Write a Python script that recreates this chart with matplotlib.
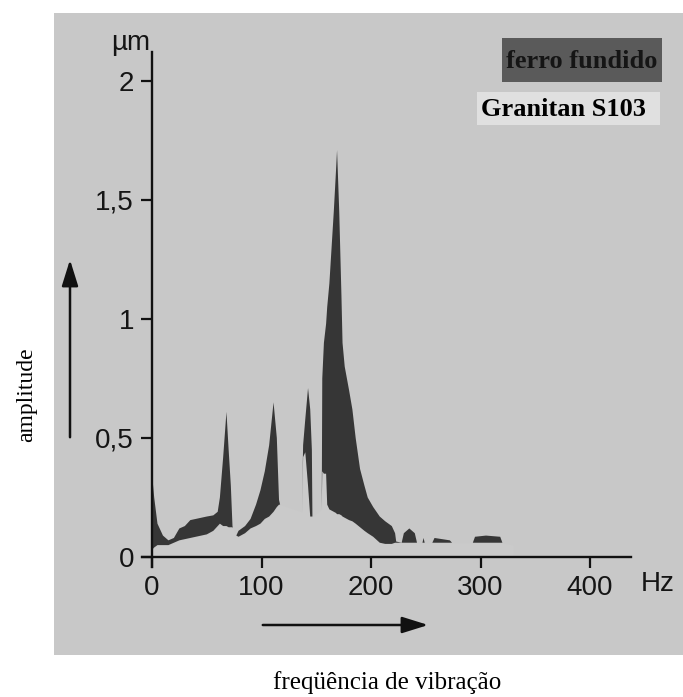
import matplotlib
matplotlib.use("Agg")
import matplotlib.pyplot as plt
from matplotlib import font_manager
from matplotlib.patches import Rectangle
from matplotlib.ticker import FuncFormatter

# frequency (Hz) and amplitude (um)
HZ = [0, 2, 5, 10, 15, 20, 25, 30, 35, 40, 50, 56, 60, 62, 65, 68, 70, 72, 73.5, 74,
      77, 79, 85, 90, 95, 99, 103, 107, 111, 114, 116, 117,
      137, 138, 140, 142.5, 144.5, 146, 146.5,
      155, 155.5, 157, 159, 160, 162, 164, 166, 168, 169, 171, 173, 174, 176, 180,
      183, 186, 190, 194, 197, 202, 208, 213, 219, 222, 223,
      228, 230, 235, 240, 242, 247, 248, 249, 256, 258, 265, 272, 274,
      293, 295, 305, 318, 320, 330]
FERRO = [0.35, 0.25, 0.14, 0.09, 0.07, 0.08, 0.12, 0.13, 0.155, 0.16, 0.17, 0.175, 0.19, 0.25, 0.42, 0.61, 0.45, 0.30, 0.13, 0.12,
         0.09, 0.11, 0.13, 0.16, 0.22, 0.28, 0.36, 0.47, 0.65, 0.50, 0.24, 0.22,
         0.19, 0.47, 0.58, 0.71, 0.62, 0.45, 0.17,
         0.20, 0.75, 0.90, 0.98, 1.05, 1.15, 1.30, 1.45, 1.62, 1.71, 1.45, 1.10, 0.90, 0.80, 0.70,
         0.62, 0.50, 0.37, 0.30, 0.25, 0.21, 0.17, 0.15, 0.13, 0.10, 0.065,
         0.06, 0.10, 0.12, 0.10, 0.06, 0.06, 0.08, 0.06, 0.06, 0.08, 0.075, 0.07, 0.06,
         0.06, 0.085, 0.09, 0.085, 0.06, 0.05]
GRANITAN = [0.03, 0.04, 0.05, 0.05, 0.05, 0.06, 0.07, 0.075, 0.08, 0.085, 0.095, 0.11, 0.13, 0.14, 0.13, 0.13, 0.125, 0.125, 0.125, 0.12,
            0.09, 0.085, 0.10, 0.12, 0.13, 0.14, 0.16, 0.17, 0.19, 0.21, 0.22, 0.22,
            0.19, 0.42, 0.44, 0.30, 0.17, 0.17, 0.17,
            0.20, 0.36, 0.35, 0.35, 0.22, 0.20, 0.195, 0.19, 0.185, 0.18, 0.18, 0.175, 0.17, 0.165, 0.155,
            0.15, 0.14, 0.125, 0.11, 0.10, 0.085, 0.06, 0.055, 0.055, 0.06, 0.06,
            0.06, 0.06, 0.06, 0.06, 0.06, 0.06, 0.06, 0.06, 0.06, 0.06, 0.06, 0.06, 0.06,
            0.06, 0.06, 0.06, 0.06, 0.06, 0.05]
XTICKS = [0, 100, 200, 300, 400]
YTICKS = [0, 0.5, 1, 1.5, 2]

BG = "#c8c8c8"
DARK = "#363636"
LIGHT = "#cacaca"

installed = {f.name for f in font_manager.fontManager.ttflist}
SANS = "Liberation Sans Narrow" if "Liberation Sans Narrow" in installed else "Liberation Sans"
SERIF = "Liberation Serif"

W, H = 683, 697
fig = plt.figure(figsize=(W / 100, H / 100), dpi=100)
fig.patch.set_facecolor("white")

# grey panel: pixels x 54..683, y 13..655 ; 0 Hz at x=152, 0 um at y=557
ax = fig.add_axes([54 / W, (H - 655) / H, (683 - 54) / W, (655 - 13) / H])
ax.set_facecolor(BG)
ax.set_xlim((54 - 152) / 1.095, (683 - 152) / 1.095)
ax.set_ylim((557 - 655) / 238, (557 - 13) / 238)

ax.fill_between(HZ, 0, GRANITAN, color=LIGHT, lw=0)
ax.fill_between(HZ, GRANITAN, FERRO, facecolor=DARK, edgecolor="none", lw=0)

for s in ["top", "right"]:
    ax.spines[s].set_visible(False)
ax.spines["left"].set_position(("data", 0))
ax.spines["bottom"].set_position(("data", 0))
ax.spines["left"].set_bounds(-0.04, 2.12)
ax.spines["bottom"].set_bounds(-9, 437)
for s in ["left", "bottom"]:
    ax.spines[s].set_linewidth(1.7)
    ax.spines[s].set_color("#111111")

ax.set_xticks(XTICKS)
ax.set_yticks(YTICKS)
ax.yaxis.set_major_formatter(FuncFormatter(lambda v, p: ("%g" % v).replace(".", ",")))
ax.tick_params(direction="out", length=8, width=1.6, color="#111111",
               labelsize=20, pad=5, labelcolor="#151515")
for lab in ax.get_xticklabels() + ax.get_yticklabels():
    lab.set_family(SANS)

ax.text(462, -0.113, "Hz", fontsize=20, family=SANS, ha="center", va="center", color="#151515")
ax.text(-2, 2.16, "\u00b5m", fontsize=20, family=SANS, ha="right", va="center", color="#151515")

# arrows along the axes
arrow = dict(arrowstyle="-|>,head_length=1.6,head_width=0.5", color="#111111", lw=1.8)
ax.annotate("", xy=(70, H - 257), xytext=(70, H - 440), xycoords="figure pixels",
            textcoords="figure pixels", arrowprops=arrow)
ax.annotate("", xy=(431, H - 625), xytext=(260, H - 625), xycoords="figure pixels",
            textcoords="figure pixels", arrowprops=arrow)

# legend boxes
fig.add_artist(Rectangle((502 / W, (H - 82) / H), 160 / W, 44 / H,
                         transform=fig.transFigure, color="#5a5a5a", lw=0))
fig.text(582 / W, (H - 61) / H, "ferro fundido", fontsize=19, family=SERIF,
         weight="bold", ha="center", va="center", color="#151515")
fig.add_artist(Rectangle((477 / W, (H - 125) / H), 183 / W, 33 / H,
                         transform=fig.transFigure, color="#e0e0e0", lw=0))
fig.text(563 / W, (H - 109) / H, "Granitan S103", fontsize=19, family=SERIF,
         weight="bold", ha="center", va="center", color="black")

fig.text(27 / W, (H - 395) / H, "amplitude", fontsize=17, family=SERIF,
         rotation=90, ha="center", va="center")
fig.text(387 / W, (H - 683) / H, "freq\u00fc\u00eancia de vibra\u00e7\u00e3o", fontsize=18,
         family=SERIF, ha="center", va="center")

fig.savefig("out.png", dpi=100)
